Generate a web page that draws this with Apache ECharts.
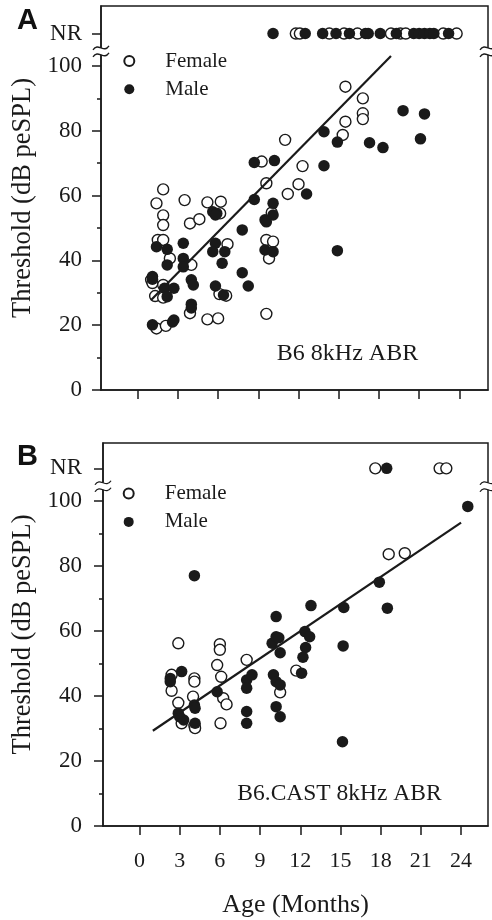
<!DOCTYPE html>
<html><head><meta charset="utf-8">
<script src="https://cdn.jsdelivr.net/npm/echarts@6/dist/echarts.min.js"></script>
<style>html,body{margin:0;padding:0;background:#fff}#c{width:492px;height:920px}</style>
</head><body><div id="c"></div>
<script>
// ---------- data ----------
const monthTicks = [0, 3, 6, 9, 12, 15, 18, 21, 24];
const thresholdTicks = [0, 20, 40, 60, 80, 100];
const thresholdMinorTicks = [10, 30, 50, 70, 90];
const NR_VALUE = 110;
const NR_LABEL = 'NR';
const seriesNames = ['Female', 'Male'];
const panelLabels = ['A', 'B'];
const panelTitles = ['B6 8kHz ABR', 'B6.CAST 8kHz ABR'];
const xTitle = 'Age (Months)';
const yTitle = 'Threshold (dB peSPL)';

// Panel A (B6): [age months, threshold dB]
const b6Female = [
  [1.0, 34.0], [1.1, 33.0], [1.4, 57.6], [1.5, 46.3], [1.9, 61.9], [1.9, 53.9], [1.9, 50.9],
  [1.9, 46.3], [1.9, 32.4], [1.3, 29.0], [1.9, 28.5], [2.4, 40.6], [1.4, 19.0], [2.1, 19.8],
  [3.5, 58.6], [3.9, 51.4], [4.6, 52.7], [4.0, 38.6], [3.9, 23.7], [5.2, 57.9], [6.2, 58.1],
  [6.7, 45.0], [5.2, 21.8], [6.0, 22.1], [6.1, 29.6], [6.6, 29.1], [6.15, 54.5], [9.25, 70.5],
  [9.6, 63.8], [9.6, 46.3], [10.1, 45.8], [9.8, 40.6], [9.6, 23.5], [10.0, 54.7], [11.0, 77.2],
  [12.3, 69.1], [12.0, 63.5], [11.2, 60.5], [15.3, 78.7], [15.5, 82.8], [15.5, 93.6],
  [16.8, 90.0], [16.8, 85.4], [16.8, 83.6]
];
const b6Male = [
  [1.1, 35.0], [1.1, 34.2], [1.4, 44.2], [2.2, 43.4], [2.2, 38.6], [2.0, 31.4], [2.7, 31.4],
  [2.2, 28.8], [1.1, 20.1], [2.7, 21.6], [2.6, 21.0], [3.4, 45.3], [3.4, 40.6], [3.4, 38.0],
  [4.0, 34.0], [4.15, 32.4], [4.0, 26.5], [4.0, 25.3], [5.6, 55.0], [5.9, 54.5], [5.8, 54.0],
  [5.8, 45.3], [5.6, 42.7], [6.5, 42.7], [6.3, 39.1], [5.8, 32.1], [6.4, 29.3], [7.8, 49.4],
  [7.8, 36.2], [8.25, 32.1], [8.7, 70.2], [8.7, 58.8], [9.5, 52.5], [9.5, 43.2], [10.1, 42.7],
  [10.1, 57.6], [10.1, 54.0], [10.2, 70.8], [9.6, 51.9], [12.6, 60.5], [13.9, 79.7],
  [13.9, 69.2], [14.9, 76.5], [14.9, 43.0], [17.3, 76.3], [18.3, 74.8], [19.8, 86.2],
  [21.4, 85.2], [21.1, 77.5]
];
const b6FemaleNR = [11.8, 12.1, 14.3, 15.4, 16.4, 18.9, 19.6, 20.0, 22.8, 23.8];
const b6MaleNR = [10.1, 12.5, 13.8, 14.8, 15.8, 17.0, 17.2, 18.1, 19.3, 20.6, 21.0, 21.4, 21.8, 22.1, 23.2];
const b6Fit = [[1.0, 27.8], [18.9, 103.1]];

// Panel B (B6.CAST)
const castFemale = [
  [2.9, 56.2], [2.4, 46.5], [2.4, 41.6], [2.9, 37.9], [3.15, 31.6], [4.1, 45.4], [4.1, 44.4],
  [4.0, 39.8], [4.1, 30.8], [4.15, 30.1], [5.8, 49.5], [6.0, 55.9], [6.0, 54.2], [6.1, 45.9],
  [6.25, 39.3], [6.5, 37.4], [6.05, 31.6], [8.0, 51.1], [11.7, 47.8], [10.5, 41.1],
  [18.6, 83.6], [19.8, 83.9]
];
const castMale = [
  [2.3, 45.4], [2.3, 44.4], [3.15, 47.5], [3.0, 33.6], [3.3, 32.6], [2.9, 34.7], [4.1, 37.2],
  [4.15, 36.2], [4.15, 31.6], [4.1, 77.0], [5.8, 41.3], [8.0, 44.9], [8.4, 46.5], [8.0, 42.4],
  [8.0, 35.2], [8.0, 31.6], [10.2, 64.4], [9.9, 56.2], [10.2, 58.2], [10.0, 46.5], [10.2, 44.4],
  [10.5, 43.4], [10.2, 36.7], [10.5, 33.6], [10.4, 57.9], [10.5, 53.3], [12.8, 67.8],
  [12.35, 59.8], [12.7, 58.2], [12.4, 54.9], [12.2, 51.9], [12.1, 47.0], [15.25, 67.2],
  [15.2, 55.4], [15.15, 25.9], [17.9, 75.0], [18.5, 67.0], [24.5, 98.3]
];
const castFemaleNR = [17.6, 22.4, 22.9];
const castMaleNR = [18.45];
const castFit = [[1.0, 29.3], [24.0, 93.3]];

// ---------- chart ----------
const INK = '#1a1a1a';
const SERIF = '"Liberation Serif", "Times New Roman", serif';
const chart = echarts.init(document.getElementById('c'), null, {renderer: 'canvas'});

const grids = [
  {left: 101, top: 6, width: 387, height: 384},
  {left: 103, top: 443, width: 385, height: 383}
];
const xRanges = [[-2.74, 26.14], [-2.72, 26.01]];
const yMax = [118.5, 117.8];

function withNR(pts, nr) { return pts.concat(nr.map(m => [m, NR_VALUE])); }

const xAxes = [], yAxes = [], series = [];
const panels = [
  {female: b6Female, male: b6Male, fNR: b6FemaleNR, mNR: b6MaleNR, fit: b6Fit},
  {female: castFemale, male: castMale, fNR: castFemaleNR, mNR: castMaleNR, fit: castFit}
];
const yLabelMargin = [19, 21];
const yNameGap = [64, 66];
panels.forEach((p, i) => {
  xAxes.push({
    type: 'value', gridIndex: i, min: xRanges[i][0], max: xRanges[i][1],
    splitLine: {show: false},
    axisLine: {show: true, onZero: false, lineStyle: {color: INK, width: 1.5}},
    axisTick: {show: true, inside: false, length: 9, customValues: monthTicks, lineStyle: {color: INK, width: 1.5}},
    axisLabel: {show: i === 1, customValues: monthTicks, margin: 24, color: INK, fontFamily: SERIF, fontSize: 22},
    name: i === 1 ? xTitle : '', nameLocation: 'middle', nameGap: 66,
    nameTextStyle: {color: INK, fontFamily: SERIF, fontSize: 26}
  });
  yAxes.push({
    type: 'value', gridIndex: i, min: 0, max: yMax[i], position: 'left',
    splitLine: {show: false},
    axisLine: {show: true, onZero: false, lineStyle: {color: INK, width: 1.5}},
    axisTick: {show: true, length: 9, customValues: thresholdTicks.concat([NR_VALUE]), lineStyle: {color: INK, width: 1.5}},
    axisLabel: {customValues: thresholdTicks.concat([NR_VALUE]), margin: yLabelMargin[i], color: INK,
      fontFamily: SERIF, fontSize: 23, formatter: v => v === NR_VALUE ? NR_LABEL : String(v)},
    name: yTitle, nameLocation: 'middle', nameRotate: 90, nameGap: yNameGap[i],
    nameTextStyle: {color: INK, fontFamily: SERIF, fontSize: 26.5}
  });
  yAxes.push({
    type: 'value', gridIndex: i, min: 0, max: yMax[i], position: 'left',
    splitLine: {show: false}, axisLine: {show: false, onZero: false},
    axisTick: {show: true, length: 4, customValues: thresholdMinorTicks, lineStyle: {color: INK, width: 1.5}},
    axisLabel: {show: false}
  });
  const yi = i * 2;
  series.push({
    name: seriesNames[0], type: 'scatter', xAxisIndex: i, yAxisIndex: yi,
    data: withNR(p.female, p.fNR), symbol: 'circle', symbolSize: 11,
    itemStyle: {color: '#ffffff', borderColor: INK, borderWidth: 1.4, opacity: 1}, emphasis: {disabled: true}
  });
  series.push({
    name: 'fit' + i, type: 'line', xAxisIndex: i, yAxisIndex: yi, data: p.fit,
    showSymbol: false, symbol: 'none', lineStyle: {color: INK, width: 2.2}, silent: true
  });
  series.push({
    name: seriesNames[1], type: 'scatter', xAxisIndex: i, yAxisIndex: yi,
    data: withNR(p.male, p.mNR), symbol: 'circle', symbolSize: 11.5,
    itemStyle: {color: INK, borderColor: INK, borderWidth: 0, opacity: 1}, emphasis: {disabled: true}
  });
});

const legendBase = {
  data: seriesNames, orient: 'vertical', padding: 0,
  itemWidth: 10, itemHeight: 10, selectedMode: false,
  textStyle: {color: INK, fontFamily: SERIF, fontSize: 21, lineHeight: 22, padding: [0, 0, 0, 26]}
};
const legends = [
  Object.assign({}, legendBase, {left: 123.3, top: 50, itemGap: 6.3}),
  Object.assign({}, legendBase, {left: 122.7, top: 482.5, itemGap: 6.4})
];

const option = {
  animation: false,
  backgroundColor: '#ffffff',
  grid: grids.map(g => Object.assign({show: true, borderColor: INK, borderWidth: 1.5, backgroundColor: 'transparent'}, g)),
  xAxis: xAxes, yAxis: yAxes, series: series, legend: legends,
  graphic: [
    {type: 'text', left: 17, top: 6, style: {text: panelLabels[0], font: 'bold 29px "Liberation Sans", Arial, sans-serif', fill: '#111'}},
    {type: 'text', left: 17, top: 442, style: {text: panelLabels[1], font: 'bold 29px "Liberation Sans", Arial, sans-serif', fill: '#111'}},
    {type: 'text', x: 347.5, y: 354, style: {text: panelTitles[0], font: '24px ' + SERIF, fill: INK, textAlign: 'center', textVerticalAlign: 'middle'}},
    {type: 'text', x: 339.5, y: 794, style: {text: panelTitles[1], font: '23.5px ' + SERIF, fill: INK, textAlign: 'center', textVerticalAlign: 'middle'}}
  ]
};
chart.setOption(option);

// axis-break marks between 100 and NR on the left and right frame edges
const breakVal = 104.5;
const extra = [];
panels.forEach((p, i) => {
  const left = chart.convertToPixel({xAxisIndex: i, yAxisIndex: i * 2}, [xRanges[i][0], breakVal]);
  const right = chart.convertToPixel({xAxisIndex: i, yAxisIndex: i * 2}, [xRanges[i][1], breakVal]);
  [left, right].forEach(pt => {
    const x = pt[0], y = pt[1];
    extra.push({type: 'rect', z: 100, shape: {x: x - 4, y: y - 3.5, width: 8, height: 7}, style: {fill: '#fff'}});
    [-3.5, 3.5].forEach(dy => {
      extra.push({type: 'bezierCurve', z: 101, shape: {
        x1: x - 8, y1: y + dy + 2, x2: x + 8, y2: y + dy - 2,
        cpx1: x - 3, cpy1: y + dy - 6, cpx2: x + 3, cpy2: y + dy + 6
      }, style: {fill: 'none', stroke: INK, lineWidth: 1.3}});
    });
  });
});
chart.setOption({graphic: option.graphic.concat(extra)});
</script></body></html>
